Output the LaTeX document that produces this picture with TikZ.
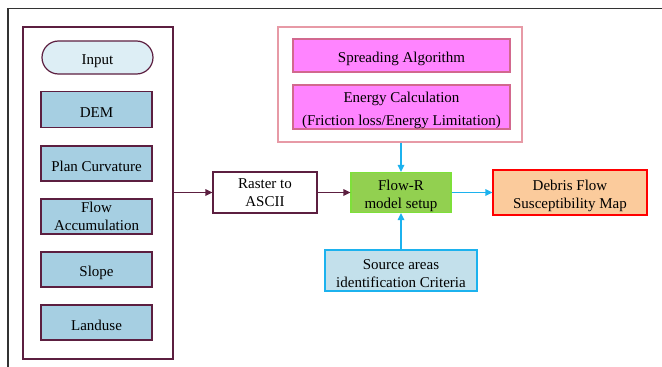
\documentclass[tikz,border=0pt]{standalone}
\usepackage{fontspec}
\setmainfont{Liberation Serif}
\usetikzlibrary{arrows.meta,shapes.misc}
\definecolor{maroon}{HTML}{5C1F40}
\definecolor{inblue}{HTML}{A6CFE2}
\definecolor{pillfill}{HTML}{DDEEF5}
\definecolor{skyline}{HTML}{1CB2EE}
\definecolor{flowgreen}{HTML}{92D050}
\definecolor{flowedge}{HTML}{7EE03A}
\definecolor{mapfill}{HTML}{FBCB9C}
\definecolor{pinkedge}{HTML}{E79AA6}
\definecolor{magfill}{HTML}{FF84FF}
\definecolor{magedge}{HTML}{D2688E}
\definecolor{srcfill}{HTML}{C3E0EB}
% raises the first line's height so the text sits a little lower in its box
\newcommand\tstrut{\rule{0pt}{17pt}}
\tikzset{
  box/.style={draw, line width=1.2pt, minimum width=#1, align=center, inner sep=0pt,
    font=\fontsize{15}{18}\selectfont},
  inbox/.style={box=111pt, fill=inblue, draw=maroon, minimum height=36pt},
  magbox/.style={box=217pt, fill=magfill, draw=magedge},
  marrow/.style={draw=maroon, line width=1.6pt, -{Triangle[length=7pt,width=6.5pt]}},
  barrow/.style={draw=skyline, line width=1.6pt, -{Triangle[length=7pt,width=6.5pt]}},
}
\begin{document}
\begin{tikzpicture}[x=1pt,y=-1pt]
\useasboundingbox (0,0) rectangle (662,367);
% outer frame lines
\draw[line width=1.5pt, draw=black!80] (8,367) -- (8,8.5) -- (662,8.5);

% input group
\node[draw=maroon, line width=1.2pt, minimum width=150pt, minimum height=332pt, inner sep=0pt]
  (ingroup) at (98,193) {};
\node[box=111pt, rounded rectangle, fill=pillfill, draw=maroon, minimum height=33pt]
  (input) at (97.5,57.5) {\tstrut Input};
\node[inbox] (dem) at (96.5,109.5) {\tstrut DEM};
\node[inbox, minimum height=35pt] (plan) at (96.5,163.5) {\tstrut Plan Curvature};
\node[inbox, minimum height=35pt] (facc) at (96.5,216.5) {Flow\\Accumulation};
\node[inbox, minimum height=35pt] (slope) at (96.5,269.5) {\tstrut Slope};
\node[inbox, minimum height=35pt] (land) at (96.5,322.5) {\tstrut Landuse};

% processing chain
\node[box=104pt, draw=maroon, fill=white, minimum height=41pt] (raster) at (265,192.5) {Raster to\\ASCII};
\node[box=100pt, draw=flowedge, fill=flowgreen, minimum height=40pt] (flowr) at (401,192.5) {\tstrut Flow-R\\model setup};
\node[box=154pt, draw=red, fill=mapfill, minimum height=45pt] (map) at (570,192.5) {\tstrut Debris Flow\\Susceptibility Map};

% algorithm group
\node[draw=pinkedge, line width=1.2pt, minimum width=244pt, minimum height=115pt, inner sep=0pt]
  (algo) at (400,84.5) {};
\node[magbox, minimum height=33pt] (spread) at (401.5,55.5) {\tstrut Spreading Algorithm};
\node[magbox, minimum height=44pt, font=\fontsize{15}{23}\selectfont] (energy) at (401.5,107)
  {\tstrut Energy Calculation\\(Friction loss/Energy Limitation)};

% source areas
\node[box=152pt, draw=skyline, fill=srcfill, minimum height=41pt] (src) at (401,270.5)
  {\tstrut Source areas\\identification Criteria};

% connectors
\draw[marrow] (ingroup.east |- raster.west) -- (raster.west);
\draw[marrow] (raster.east) -- (flowr.west);
\draw[barrow] (flowr.east) -- (map.west);
\draw[barrow] (algo.south -| flowr.north) -- (flowr.north);
\draw[barrow] (src.north) -- (flowr.south);
\end{tikzpicture}
\end{document}
